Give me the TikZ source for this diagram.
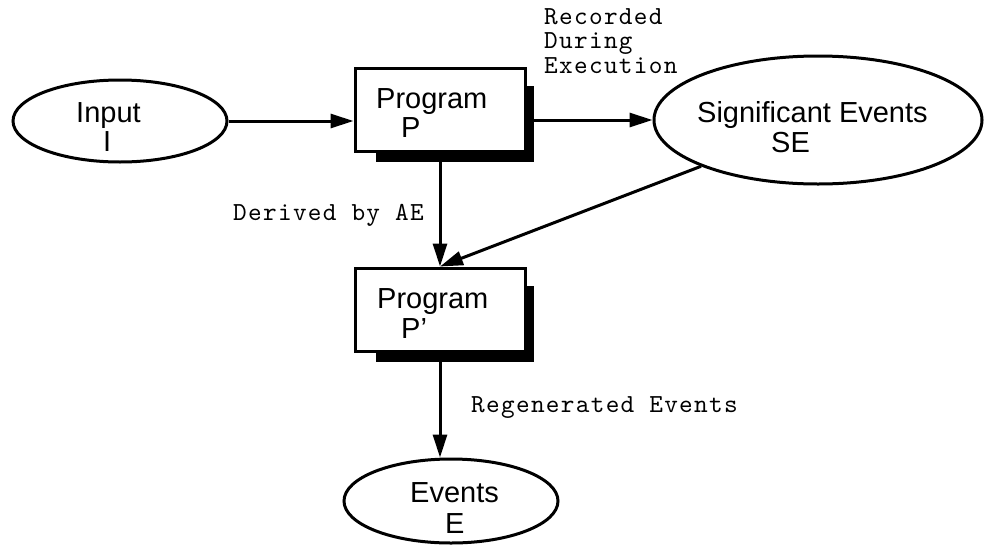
\documentclass[tikz,border=0pt]{standalone}
\usepackage{fontspec}
\setmainfont{Liberation Sans}
\newfontfamily\monof{lmmono10-regular.otf}[LetterSpace=5]
\usetikzlibrary{shapes.geometric,arrows.meta}
\begin{document}
\begin{tikzpicture}[x=1pt,y=-1pt,
  oval/.style={draw,ellipse,line width=3pt,inner sep=0pt},
  box/.style={draw,fill=white,line width=3pt,inner sep=0pt,minimum width=170pt,minimum height=83pt},
  shad/.style={fill=black,inner sep=0pt,minimum width=158pt,minimum height=76pt},
  sans/.style={inner sep=0pt,anchor=base west,font=\fontsize{29}{30}\selectfont},
  mono/.style={inner sep=0pt,anchor=base west,font=\monof\fontsize{26}{26}\selectfont},
  arr/.style={line width=3pt,-{Triangle[length=23pt,width=14pt]}}]
\useasboundingbox (0,0) rectangle (987,544);

% shapes
\node[oval,minimum width=214pt,minimum height=82pt] (In) at (120,121) {};
\node[shad] (Psh) at (455,124) {};
\node[box] (P) at (440,109.5) {};
\node[oval,minimum width=328pt,minimum height=128pt] (SE) at (818,120) {};
\node[shad] (P2sh) at (455,324) {};
\node[box] (P2) at (440,309.5) {};
\node[oval,minimum width=214pt,minimum height=84pt] (E) at (451,501) {};

% texts
\node[sans] (tIn) at (76,122) {Input};
\node[sans] (tI) at (103,151) {I};
\node[sans] (tP1) at (376,108) {Program};
\node[sans] (tP2) at (401,137) {P};
\node[sans] (tSE1) at (697,122) {Significant Events};
\node[sans] (tSE2) at (771,152) {SE};
\node[sans] (tQ1) at (377,308) {Program};
\node[sans] (tQ2) at (401,338) {P'};
\node[sans] (tE1) at (410,502) {Events};
\node[sans] (tE2) at (445,533) {E};

\node[mono] (rec1) at (544,24) {Recorded};
\node[mono] (rec2) at (544,48.5) {During};
\node[mono] (rec3) at (544,73) {Execution};
\node[mono] (der) at (233,220) {Derived by AE};
\node[mono] (reg) at (471,412) {Regenerated Events};

% connectors
\draw[arr] (In.east) -- (In.east -| P.west);
\draw[arr] (Psh.east |- SE.west) -- (SE.west);
\draw[arr] (Psh.south -| P.south) -- (P2.north);
\draw[arr] (SE.south west) -- (P2.north);
\draw[arr] (P2.south |- P2sh.south) -- (P2.south |- E.north);
\end{tikzpicture}
\end{document}
